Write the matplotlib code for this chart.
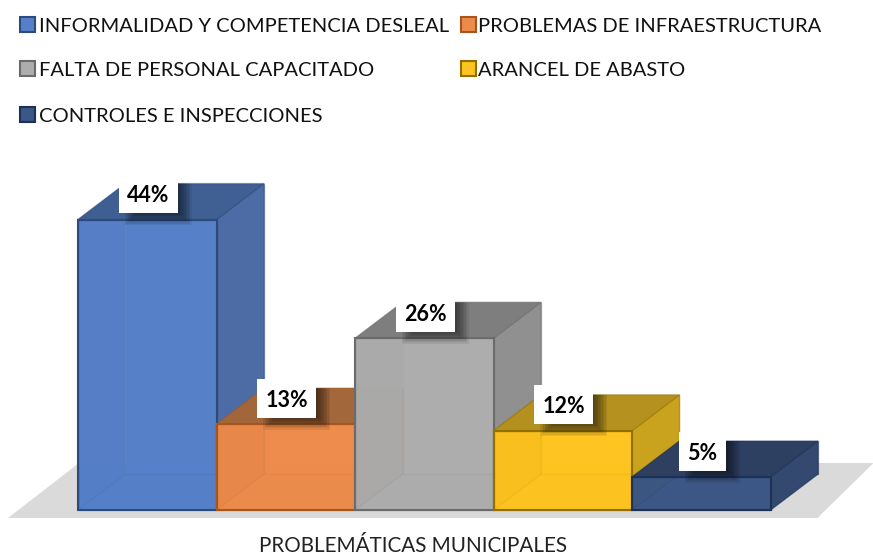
import matplotlib
matplotlib.use("Agg")
import matplotlib.pyplot as plt
from matplotlib.patches import Polygon, Rectangle

plt.rcParams['font.family'] = ['Lato', 'DejaVu Sans']

# Data
categories = ['INFORMALIDAD Y COMPETENCIA DESLEAL', 'PROBLEMAS DE INFRAESTRUCTURA',
              'FALTA DE PERSONAL CAPACITADO', 'ARANCEL DE ABASTO', 'CONTROLES E INSPECCIONES']
values = [44, 13, 26, 12, 5]
front_colors = ['#5580c9', '#ed8b4b', '#adadad', '#fec41f', '#3b5785']
side_colors = ['#4d6ba3', '#c47a45', '#8f8f8f', '#c9a21e', '#33496f']
top_colors = ['#3f5e90', '#a0663a', '#7d7d7d', '#b3901f', '#2e3f60']
edge_colors = ['#2d4a7d', '#a5561d', '#6b6b6b', '#8f7000', '#1d3157']
xlabel = 'PROBLEMÁTICAS MUNICIPALES'

W, H = 873, 557
BAR_PX = 138.5       # bar width in pixels
PCT_PX = 6.6         # pixels per percent
X0, Y0 = 78, 510     # pixel position of first bar's front bottom left
DX = 47.5 / BAR_PX   # 3d depth in data units
DY = 36 / PCT_PX


def shade(c, f):
    return tuple(v * f for v in matplotlib.colors.to_rgb(c))


fig = plt.figure(figsize=(W / 100, H / 100), dpi=100)
ax = fig.add_axes([0, 0, 1, 1])
ax.set_xlim(-X0 / BAR_PX, (W - X0) / BAR_PX)
ax.set_ylim((Y0 - H) / PCT_PX, Y0 / PCT_PX)
ax.axis('off')

# Floor under the bars
floor_lo = -8 / PCT_PX
floor_hi = DY + 11 / PCT_PX
ax.add_patch(Polygon([(-70 / BAR_PX, floor_lo), (len(values) + 47 / BAR_PX, floor_lo),
                     (len(values) + 103 / BAR_PX, floor_hi), (1 / BAR_PX, floor_hi)],
                     closed=True, fc='#dbdadb', ec='none', zorder=0))

z = 1
for i, v in enumerate(values):
    c = front_colors[i]
    edge = matplotlib.colors.to_rgb(edge_colors[i])
    faces = [
        # floor, left and back of the box, seen through the front
        ([(i, 0), (i + 1, 0), (i + 1 + DX, DY), (i + DX, DY)], shade(c, 0.97), 0.95),
        ([(i, 0), (i + DX, DY), (i + DX, v + DY), (i, v)], shade(c, 0.9), 0.95),
        ([(i + DX, DY), (i + 1 + DX, DY), (i + 1 + DX, v + DY), (i + DX, v + DY)], shade(c, 1.0), 0.95),
        # right side, top, front
        ([(i + 1, 0), (i + 1 + DX, DY), (i + 1 + DX, v + DY), (i + 1, v)],
         matplotlib.colors.to_rgb(side_colors[i]), 0.97),
        ([(i, v), (i + 1, v), (i + 1 + DX, v + DY), (i + DX, v + DY)],
         matplotlib.colors.to_rgb(top_colors[i]), 0.97),
        ([(i, 0), (i + 1, 0), (i + 1, v), (i, v)], shade(c, 1.0), 0.82),
    ]
    for pts, fc, alpha in faces:
        ax.add_patch(Polygon(pts, closed=True, fc=(*fc, alpha), ec=(*edge, 0.4), lw=1.0, zorder=z))
        z += 1
    ax.add_patch(Rectangle((i, 0), 1, v, fc='none', ec=edge, lw=1.5, zorder=z))
    z += 1

# Data labels: white box with blurred shadow on the bar top
for i, v in enumerate(values):
    cx = i + 0.5 + 1 / BAR_PX
    cy = v + 26 / PCT_PX
    bw = (47 if v < 10 else 59) / BAR_PX
    bh = 39 / PCT_PX
    clip = Polygon([(i, 0), (i + 1, 0), (i + 1 + DX, DY), (i + 1 + DX, v + DY), (i + DX, v + DY), (i, v)],
                   closed=True, transform=ax.transData)
    left = cx - bw / 2 + 16 / BAR_PX
    right = cx + bw / 2 + 4 / BAR_PX
    low = cy - bh / 2 - 2 / PCT_PX
    high = cy + bh / 2
    for k in range(12):
        g = 10 - 1.5 * k
        sh = Rectangle((left - g / BAR_PX, low - g / PCT_PX), right - left + 2 * g / BAR_PX,
                       high - low + 2 * g / PCT_PX, fc=(0, 0, 0, 0.07), ec='none', zorder=z)
        ax.add_patch(sh)
        sh.set_clip_path(clip)
        z += 1
    ax.add_patch(Rectangle((cx - bw / 2, cy - bh / 2), bw, bh, fc='white', ec='none', zorder=z))
    ax.text(cx, cy - 2 / PCT_PX, '%d%%' % v, ha='center', va='center', fontsize=15.5, fontweight='bold',
            color='black', zorder=z + 1)
    z += 2

# Legend in three rows, two columns
legend_pos = [(20, 24), (461, 24), (20, 68), (461, 68), (20, 114)]
for name, c, e, (px, py) in zip(categories, front_colors, edge_colors, legend_pos):
    fig.add_artist(Rectangle((px / W, 1 - (py + 8) / H), 15 / W, 15 / H, transform=fig.transFigure,
                             fc=c, ec=e, lw=1.5))
    fig.text((px + 17 + (2 if px < 100 else 0)) / W, 1 - (py + 2) / H, name, ha='left', va='center',
             fontsize=14.5, color='#111111')

fig.text(413 / W, 1 - 552 / H, xlabel, ha='center', va='baseline', fontsize=14.85, color='#222222')

fig.savefig('out.png', dpi=100)
